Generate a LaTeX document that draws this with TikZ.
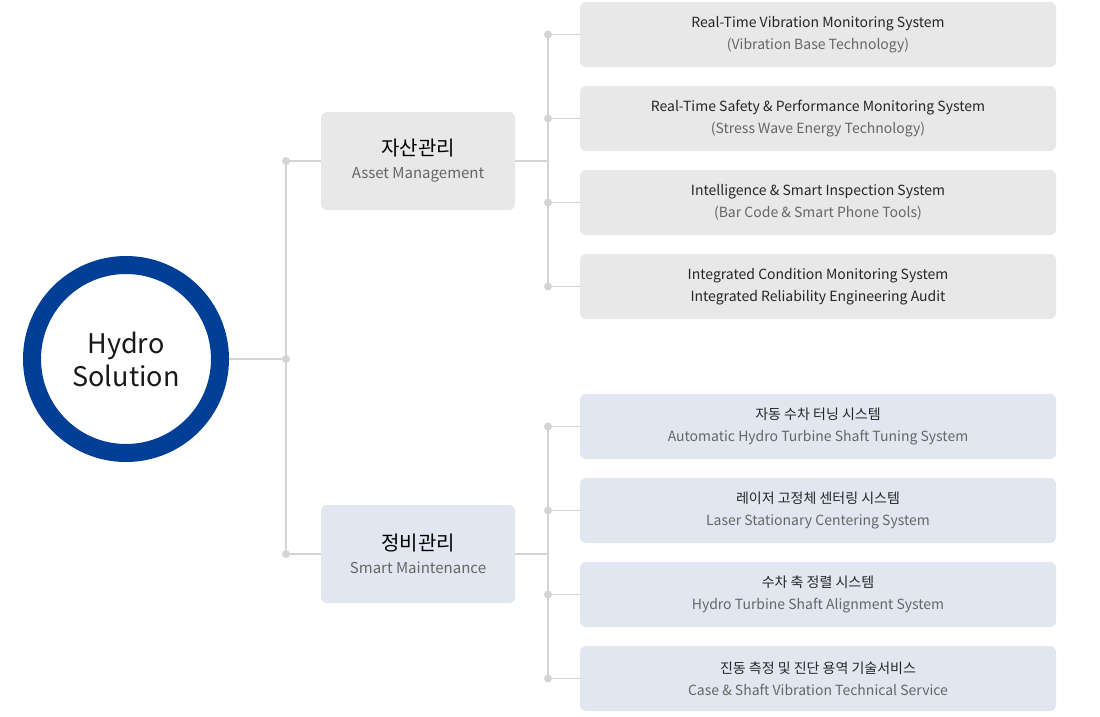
\documentclass[tikz,border=0pt]{standalone}
\usepackage{fontspec}
\setmainfont{Noto Sans CJK KR}
\usepackage{xcolor}
\usetikzlibrary{positioning}

\definecolor{hubblue}{HTML}{013F97}
\definecolor{assetgray}{HTML}{E8E8E8}
\definecolor{mainblue}{HTML}{E2E6F0}
\definecolor{linkgray}{HTML}{D4D4D4}
\definecolor{subgray}{HTML}{666666}

\begin{document}
\begin{tikzpicture}[
    x=1pt, y=-1pt,
    hub/.style={draw=hubblue, line width=18pt, circle, fill=white, minimum size=188pt, inner sep=0pt, align=center, font=\fontsize{27}{33}\selectfont, text=black!90},
    category/.style={rounded corners=6pt, minimum width=194pt, minimum height=98pt, inner sep=0pt, align=center, font=\fontsize{15}{23}\selectfont},
    item/.style={rounded corners=6pt, minimum width=476pt, minimum height=65pt, inner sep=0pt, align=center, font=\fontsize{14}{22}\selectfont, text=black!85},
    link/.style={draw=linkgray, line width=1.6pt},
    dot/.style={fill=linkgray}
]
\useasboundingbox (0,0) rectangle (1100,716);

% Central hub and the two management areas.
\node[hub] (hub) at (126,359) {Hydro\\Solution};
\node[category, fill=assetgray] (asset) at (418,161) {{\fontsize{20}{23}\selectfont 자산관리}\\\textcolor{subgray}{Asset Management}};
\node[category, fill=mainblue] (maint) at (418,554) {{\fontsize{20}{23}\selectfont 정비관리}\\\textcolor{subgray}{Smart Maintenance}};

% Asset management systems.
\node[item, fill=assetgray] (vib) at (818,34.5) {Real-Time Vibration Monitoring System\\\textcolor{subgray}{(Vibration Base Technology)}};
\node[item, fill=assetgray] (safety) at (818,118.5) {Real-Time Safety \& Performance Monitoring System\\\textcolor{subgray}{(Stress Wave Energy Technology)}};
\node[item, fill=assetgray] (inspect) at (818,202.5) {Intelligence \& Smart Inspection System\\\textcolor{subgray}{(Bar Code \& Smart Phone Tools)}};
\node[item, fill=assetgray] (audit) at (818,286.5) {Integrated Condition Monitoring System\\Integrated Reliability Engineering Audit};

% Smart maintenance services.
\node[item, fill=mainblue] (tuning) at (818,426.5) {자동 수차 터닝 시스템\\\textcolor{subgray}{Automatic Hydro Turbine Shaft Tuning System}};
\node[item, fill=mainblue] (laser) at (818,510.5) {레이저 고정체 센터링 시스템\\\textcolor{subgray}{Laser Stationary Centering System}};
\node[item, fill=mainblue] (align) at (818,594.5) {수차 축 정렬 시스템\\\textcolor{subgray}{Hydro Turbine Shaft Alignment System}};
\node[item, fill=mainblue] (service) at (818,678.5) {진동 측정 및 진단 용역 기술서비스\\\textcolor{subgray}{Case \& Shaft Vibration Technical Service}};

% Junction points of the tree.
\coordinate (trunk) at (286,359);
\coordinate (trunktop) at (286,161);
\coordinate (trunkbot) at (286,554);
\coordinate (abranch) at (548,161);
\coordinate (mbranch) at (548,554);

% Hub to the two areas.
\draw[link] (hub.east) -- (trunk);
\draw[link] (trunktop) -- (trunkbot);
\draw[link] (trunktop) -- (asset.west);
\draw[link] (trunkbot) -- (maint.west);

% Asset branch.
\draw[link] (asset.east) -- (abranch);
\draw[link] (abranch |- vib.west) -- (abranch |- audit.west);
\draw[link] (abranch |- vib.west) -- (vib.west);
\draw[link] (abranch |- safety.west) -- (safety.west);
\draw[link] (abranch |- inspect.west) -- (inspect.west);
\draw[link] (abranch |- audit.west) -- (audit.west);

% Maintenance branch.
\draw[link] (maint.east) -- (mbranch);
\draw[link] (mbranch |- tuning.west) -- (mbranch |- service.west);
\draw[link] (mbranch |- tuning.west) -- (tuning.west);
\draw[link] (mbranch |- laser.west) -- (laser.west);
\draw[link] (mbranch |- align.west) -- (align.west);
\draw[link] (mbranch |- service.west) -- (service.west);

% Dots on the junctions.
\fill[dot] (trunk) circle (4pt);
\fill[dot] (trunktop) circle (4pt);
\fill[dot] (trunkbot) circle (4pt);
\fill[dot] (abranch |- vib.west) circle (4pt);
\fill[dot] (abranch |- safety.west) circle (4pt);
\fill[dot] (abranch |- inspect.west) circle (4pt);
\fill[dot] (abranch |- audit.west) circle (4pt);
\fill[dot] (mbranch |- tuning.west) circle (4pt);
\fill[dot] (mbranch |- laser.west) circle (4pt);
\fill[dot] (mbranch |- align.west) circle (4pt);
\fill[dot] (mbranch |- service.west) circle (4pt);

\end{tikzpicture}
\end{document}
